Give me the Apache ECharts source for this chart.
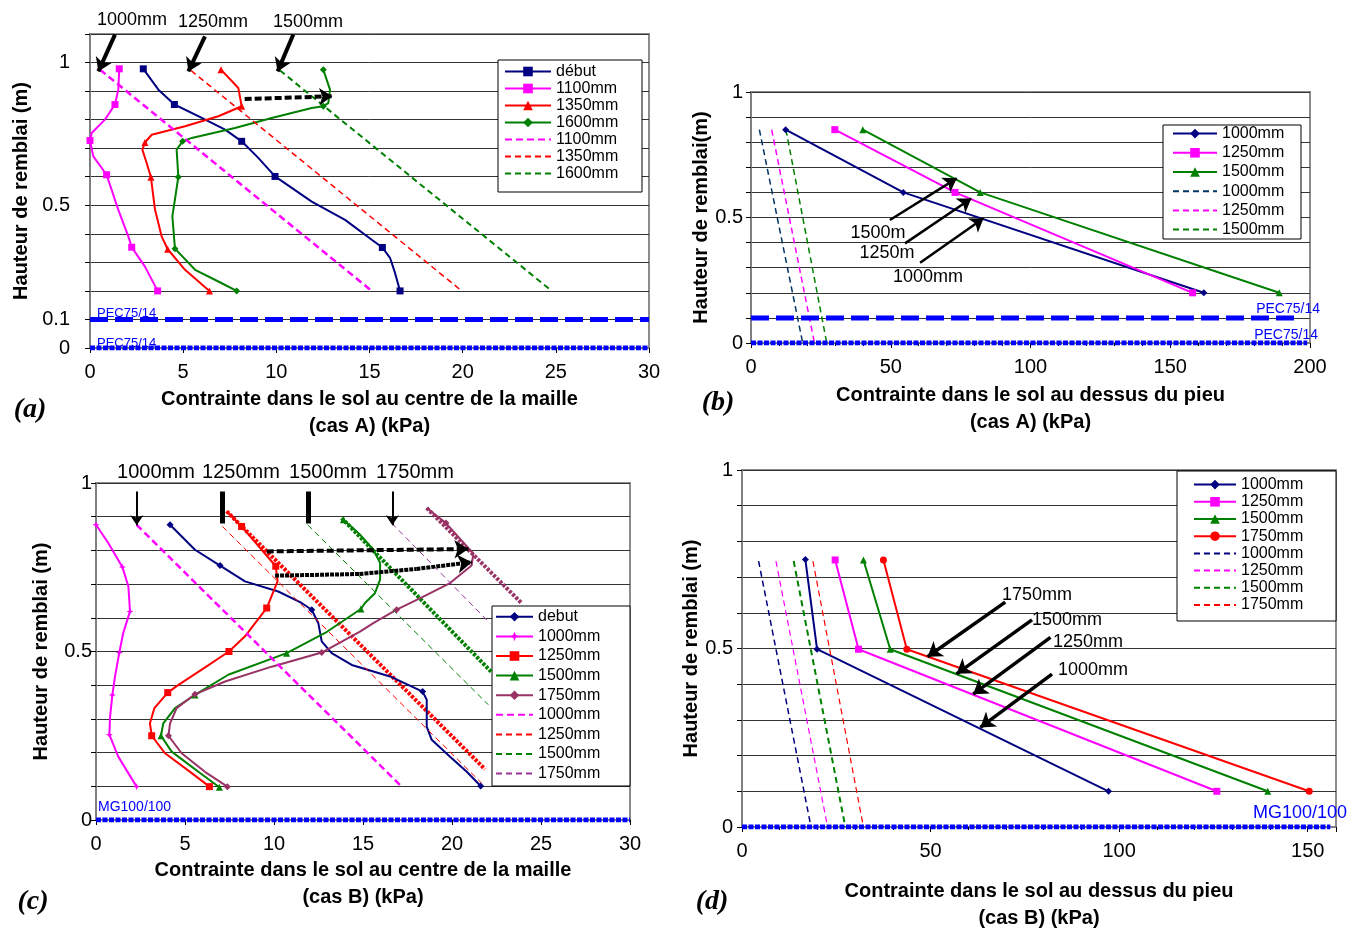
<!DOCTYPE html>
<html>
<head>
<meta charset="utf-8">
<script src="https://cdn.jsdelivr.net/npm/echarts@6/dist/echarts.min.js"></script>
<style>
  html, body { margin: 0; padding: 0; background: #fff; }
  #chart { width: 1362px; height: 933px; }
</style>
</head>
<body>
<div id="chart"></div>
<script>
// ---- (a) cas A, centre de la maille : [contrainte kPa, hauteur m]
const aDebut = [[2.86,0.978],[3.67,0.905],[4.53,0.853],[6.0,0.806],[7.25,0.765],[8.14,0.724],[9.03,0.666],[9.93,0.601],[11.9,0.513],[13.69,0.449],[15.12,0.379],[15.69,0.352],[16.1,0.316],[16.37,0.263],[16.64,0.2]];
const aDebutMk = [0,2,5,7,11,14];
const a1100 = [[1.57,0.978],[1.52,0.905],[1.34,0.853],[0.8,0.8],[0.09,0.753],[0,0.727],[0.18,0.671],[0.89,0.607],[1.52,0.484],[2.06,0.39],[2.24,0.353],[2.95,0.285],[3.63,0.2]];
const a1100Mk = [0,2,5,7,10,12];
const a1350 = [[7.03,0.975],[7.96,0.911],[8.14,0.847],[6.89,0.812],[5.1,0.777],[3.31,0.747],[2.95,0.72],[2.81,0.695],[3.04,0.648],[3.27,0.598],[3.49,0.484],[3.85,0.39],[4.17,0.346],[5.1,0.274],[6.41,0.2]];
const a1350Mk = [0,2,6,9,12,14];
const a1600 = [[12.52,0.975],[12.88,0.905],[12.79,0.858],[12.52,0.847],[11.9,0.841],[9.75,0.806],[7.78,0.771],[5.46,0.736],[4.97,0.724],[4.65,0.695],[4.74,0.599],[4.42,0.461],[4.56,0.348],[5.64,0.274],[6.89,0.233],[7.87,0.2]];
const a1600Mk = [0,3,8,10,12,15];
const a1100d = [[0.54,0.975],[15.12,0.2]];
const a1350d = [[5.42,0.972],[19.95,0.2]];
const a1600d = [[10.2,0.972],[24.78,0.2]];
const aNappe = [[0,0.1],[30,0.1]];
const aBase = [[0,0],[30,0]];

// ---- (b) cas A, au dessus du pieu
const b1000 = [[12.4,0.85],[54.5,0.6],[162,0.2]];
const b1250 = [[30,0.85],[73,0.6],[158,0.2]];
const b1500 = [[40,0.85],[82,0.6],[189,0.2]];
const b1000d = [[3,0.85],[18.5,0]];
const b1250d = [[7.4,0.85],[22.7,0]];
const b1500d = [[12.5,0.85],[27.1,0]];
const bNappe = [[0,0.1],[195,0.1]];
const bBase = [[0,0],[199,0]];

// ---- (c) cas B, centre de la maille
const cDebut = [[4.16,0.876],[5.56,0.802],[6.97,0.755],[8.37,0.708],[10.24,0.678],[11.55,0.644],[12.12,0.624],[12.49,0.584],[12.68,0.53],[13.24,0.495],[14.37,0.46],[16.52,0.426],[18.35,0.381],[18.58,0.357],[18.58,0.277],[18.86,0.238],[19.89,0.188],[20.83,0.143],[21.61,0.101]];
const cDebutMk = [0,2,6,12,18];
const c1000 = [[0,0.876],[0.69,0.822],[1.48,0.751],[1.82,0.693],[1.91,0.619],[1.53,0.555],[1.31,0.497],[1.07,0.426],[0.92,0.371],[0.79,0.307],[0.75,0.253],[1.25,0.188],[2.28,0.099]];
const c1000Mk = [0,2,4,6,8,10,12];
const c1250 = [[7.34,0.916],[8.18,0.871],[10.1,0.753],[10.2,0.708],[9.59,0.629],[8.37,0.545],[7.47,0.5],[5.94,0.446],[4.63,0.401],[4.03,0.378],[3.28,0.332],[3.03,0.287],[3.13,0.25],[3.88,0.198],[5.38,0.139],[6.37,0.099]];
const c1250Mk = [1,2,4,6,9,12,15];
const c1500 = [[13.9,0.891],[14.83,0.847],[15.58,0.802],[15.96,0.763],[15.96,0.713],[15.67,0.673],[15.11,0.644],[14.88,0.626],[12.87,0.555],[10.71,0.495],[7.43,0.431],[5.56,0.371],[4.44,0.332],[3.78,0.287],[3.65,0.25],[4.25,0.203],[5.75,0.143],[6.93,0.097]];
const c1500Mk = [0,7,9,11,14,17];
const c1750 = [[18.58,0.926],[19.66,0.881],[21.2,0.79],[21.1,0.755],[19.89,0.703],[18.39,0.663],[16.89,0.624],[15.58,0.584],[14.83,0.559],[12.68,0.497],[9.87,0.455],[7.25,0.411],[5.56,0.373],[4.53,0.332],[4.16,0.287],[4.07,0.25],[4.81,0.198],[6.12,0.143],[7.38,0.099]];
const c1750Mk = [1,6,9,12,15,18];
const c1000d = [[2.28,0.876],[17.08,0.104]];
const c1250d = [[7.1,0.871],[21.67,0.109]];
const c1500d = [[11.89,0.876],[22.04,0.342]];
const c1750d = [[16.61,0.881],[22.13,0.584]];
const c1250t = [[7.34,0.916],[21.85,0.151]];
const c1500t = [[13.8,0.896],[22.2,0.44]];
const c1750t = [[18.58,0.926],[23.9,0.644]];
const cBase = [[0,0],[30,0]];

// ---- (d) cas B, au dessus du pieu
const d1000 = [[16.8,0.749],[19.9,0.498],[97.2,0.1]];
const d1250 = [[24.7,0.748],[30.9,0.498],[125.9,0.1]];
const d1500 = [[32.2,0.748],[39.3,0.498],[139.4,0.1]];
const d1750 = [[37.5,0.748],[43.7,0.498],[150.4,0.1]];
const d1000d = [[4.4,0.745],[18.3,0]];
const d1250d = [[9.0,0.745],[22.7,0]];
const d1500d = [[13.7,0.745],[27.4,0]];
const d1750d = [[18.8,0.745],[32.2,0]];
const dBase = [[0,0],[156,0]];

// annotation arrows (tail, head), in data units
const aArrowsTop = [[[1.34,1.098],[0.45,0.969]],[[6.17,1.092],[5.28,0.969]],[[10.91,1.098],[10.07,0.969]]];
const aArrowDash = [[[8.3,0.872],[13.0,0.882]]];
const bArrows = [[[49.7,0.49],[73.6,0.656]],[[55.1,0.397],[78.8,0.576]],[[60.5,0.32],[83.2,0.497]]];
const cArrowsThin = [[[2.29,0.975],[2.29,0.875]],[[16.65,0.975],[16.65,0.875]]];
const cBars = [[[7.1,0.975],[7.1,0.88]],[[11.92,0.975],[11.92,0.88]]];
const cArrowDash = [[[9.59,0.797],[20.92,0.804]]];
const cDotBody = [[[10.06,0.725],[14.8,0.73]],[[14.8,0.73],[18,0.745]]];
const cDotHead = [[[18,0.745],[21.11,0.765]]];
const dArrows = [[[69.8,0.63],[49.2,0.477]],[[76.9,0.58],[56.9,0.429]],[[81.8,0.531],[61.3,0.372]],[[82.2,0.428],[63.2,0.279]]];

const FONT = "'Liberation Sans', Arial, sans-serif";
const NAVY = '#000080', MAG = '#ff00ff', RED = '#ff0000', GREEN = '#008000', PURP = '#993366', BLUE = '#0000ff';
const STAR = 'path://M5,0L6.4,3.6L10,5L6.4,6.4L5,10L3.6,6.4L0,5L3.6,3.6Z';

function curve(name, g, pts, marks, color, symbol, width, dash) {
  return {
    name: name, type: 'line', xAxisIndex: g, yAxisIndex: g,
    data: pts.map((p, i) => (marks === true || (marks && marks.includes(i))) ? p : { value: p, symbol: 'none' }),
    symbol: symbol || 'none', symbolSize: 7,
    lineStyle: { color: color, width: width || 2, type: dash || 'solid' },
    itemStyle: { color: color },
    emphasis: { disabled: true }, animation: false, z: 3
  };
}

function arrows(g, list, width, head, type) {
  return {
    type: 'lines', coordinateSystem: 'cartesian2d', xAxisIndex: g, yAxisIndex: g,
    silent: true, animation: false, z: 6,
    symbol: head ? ['none', 'arrow'] : ['none', 'none'], symbolSize: head || 1,
    lineStyle: { color: '#000', width: width, type: type || 'solid', opacity: 1, curveness: 0 },
    data: list.map(c => ({ coords: c }))
  };
}

function xAx(g, max, interval, name, gap, minor) {
  return {
    gridIndex: g, type: 'value', min: 0, max: max, interval: interval,
    axisLine: { show: true, onZero: false, lineStyle: { color: '#808080', width: 2 } },
    axisTick: { show: true, length: 5, lineStyle: { color: '#000' } },
    minorTick: { show: !!minor, splitNumber: minor || 5, length: 3, lineStyle: { color: '#000' } },
    axisLabel: { fontSize: 20, color: '#000', fontFamily: FONT, margin: 14,
      formatter: v => (Math.abs(v / interval - Math.round(v / interval)) < 1e-6 ? String(v) : '') },
    splitLine: { show: false },
    name: name, nameLocation: 'middle', nameGap: gap,
    nameTextStyle: { fontSize: 20, fontWeight: 'bold', color: '#000', fontFamily: FONT, lineHeight: 27 }
  };
}

function yAx(g, max, shown, name, gap, margin) {
  return {
    gridIndex: g, type: 'value', min: 0, max: max, interval: 0.1,
    axisLine: { show: true, onZero: false, lineStyle: { color: '#808080', width: 2 } },
    axisTick: { show: true, length: 5, lineStyle: { color: '#000' } },
    axisLabel: { fontSize: 20, color: '#000', fontFamily: FONT, margin: margin,
      formatter: v => (shown.some(s => Math.abs(s - v) < 1e-6) ? String(+v.toFixed(1)) : '') },
    splitLine: { show: true, lineStyle: { color: '#333', width: 1 } },
    name: name, nameLocation: 'middle', nameGap: gap,
    nameTextStyle: { fontSize: 20, fontWeight: 'bold', color: '#000', fontFamily: FONT }
  };
}

// dashed entries (name ending in ":d") show the line only, no marker
function legend(names, left, top, itemWidth, lineHeight) {
  return {
    data: names.map(n => (n.endsWith(':d') ? { name: n, itemStyle: { opacity: 0 } } : n)),
    left: left, top: top, orient: 'vertical', padding: 0,
    itemWidth: itemWidth, itemHeight: 12, itemGap: 0, selectedMode: false,
    formatter: n => n.split(':')[1],
    textStyle: { fontSize: 16, color: '#000', fontFamily: FONT, lineHeight: lineHeight }
  };
}

function txt(x, y, s, size, opts) {
  return { type: 'text', x: x, y: y, z: 10,
    style: Object.assign({ text: s, fontSize: size, fontFamily: FONT, fill: '#000',
      textAlign: 'center', textVerticalAlign: 'middle' }, opts || {}) };
}
function box(x, y, w, h) {
  return { type: 'rect', z: 3, shape: { x: x, y: y, width: w, height: h },
    style: { fill: '#fff', stroke: '#000', lineWidth: 1 } };
}
function letter(x, y, s) {
  return txt(x, y, s, 28, { fontFamily: "'Liberation Serif', 'Times New Roman', serif", fontWeight: 'bold', fontStyle: 'italic' });
}

const DASH = [6, 4];
const series = [
  // (a)
  curve('a:début', 0, aDebut, aDebutMk, NAVY, 'rect', 2),
  curve('a:1100mm', 0, a1100, a1100Mk, MAG, 'rect', 2),
  curve('a:1350mm', 0, a1350, a1350Mk, RED, 'triangle', 2),
  curve('a:1600mm', 0, a1600, a1600Mk, GREEN, 'diamond', 2),
  curve('a:1100mm:d', 0, a1100d, null, MAG, null, 2.5, [7, 4]),
  curve('a:1350mm:d', 0, a1350d, null, RED, null, 1.5, DASH),
  curve('a:1600mm:d', 0, a1600d, null, GREEN, null, 2, DASH),
  curve('a:nappe', 0, aNappe, null, BLUE, null, 5, [18, 7]),
  curve('a:base', 0, aBase, null, BLUE, null, 5, [5, 1.5]),
  arrows(0, aArrowsTop, 4, 13),
  arrows(0, aArrowDash, 4, 13, [7, 3]),
  // (b)
  curve('b:1000mm', 1, b1000, true, NAVY, 'diamond', 2),
  curve('b:1250mm', 1, b1250, true, MAG, 'rect', 2),
  curve('b:1500mm', 1, b1500, true, GREEN, 'triangle', 2),
  curve('b:1000mm:d', 1, b1000d, null, '#003366', null, 1.5, DASH),
  curve('b:1250mm:d', 1, b1250d, null, MAG, null, 1.5, DASH),
  curve('b:1500mm:d', 1, b1500d, null, GREEN, null, 1.5, DASH),
  curve('b:nappe', 1, bNappe, null, BLUE, null, 5, [18, 7]),
  curve('b:base', 1, bBase, null, BLUE, null, 5, [5, 1.5]),
  arrows(1, bArrows, 2.5, 13),
  // (c)
  curve('c:1250mm:t', 2, c1250t, null, RED, null, 4, [3, 1.5]),
  curve('c:1500mm:t', 2, c1500t, null, GREEN, null, 4, [3, 1.5]),
  curve('c:1750mm:t', 2, c1750t, null, PURP, null, 4, [3, 1.5]),
  curve('c:debut', 2, cDebut, cDebutMk, NAVY, 'diamond', 2),
  curve('c:1000mm', 2, c1000, c1000Mk, MAG, STAR, 2),
  curve('c:1250mm', 2, c1250, c1250Mk, RED, 'rect', 2),
  curve('c:1500mm', 2, c1500, c1500Mk, GREEN, 'triangle', 2),
  curve('c:1750mm', 2, c1750, c1750Mk, PURP, 'diamond', 2),
  curve('c:1000mm:d', 2, c1000d, null, MAG, null, 2.5, [7, 4]),
  curve('c:1250mm:d', 2, c1250d, null, RED, null, 1, DASH),
  curve('c:1500mm:d', 2, c1500d, null, GREEN, null, 1, DASH),
  curve('c:1750mm:d', 2, c1750d, null, '#993399', null, 1, DASH),
  curve('c:base', 2, cBase, null, BLUE, null, 5, [5, 1.5]),
  arrows(2, cArrowsThin, 2, 10),
  arrows(2, cBars, 5, 0),
  arrows(2, cArrowDash, 4, 14, [7, 3]),
  arrows(2, cDotBody, 4, 0, [4, 1]),
  arrows(2, cDotHead, 4, 14, [4, 1]),
  // (d)
  curve('d:1000mm', 3, d1000, true, NAVY, 'diamond', 2),
  curve('d:1250mm', 3, d1250, true, MAG, 'rect', 2),
  curve('d:1500mm', 3, d1500, true, GREEN, 'triangle', 2),
  curve('d:1750mm', 3, d1750, true, RED, 'circle', 2),
  curve('d:1000mm:d', 3, d1000d, null, NAVY, null, 1.5, DASH),
  curve('d:1250mm:d', 3, d1250d, null, MAG, null, 1.2, DASH),
  curve('d:1500mm:d', 3, d1500d, null, GREEN, null, 2, DASH),
  curve('d:1750mm:d', 3, d1750d, null, RED, null, 1.2, DASH),
  curve('d:base', 3, dBase, null, BLUE, null, 5, [5, 1.5]),
  arrows(3, dArrows, 3.5, 14)
];

const gridBase = { show: true, borderColor: '#8c8c8c', borderWidth: 2, backgroundColor: 'transparent' };

const option = {
  backgroundColor: '#fff',
  animation: false,
  grid: [
    Object.assign({ left: 90, top: 34, width: 559, height: 314 }, gridBase),
    Object.assign({ left: 751, top: 92, width: 559, height: 251 }, gridBase),
    Object.assign({ left: 96, top: 483, width: 534, height: 337 }, gridBase),
    Object.assign({ left: 742, top: 470, width: 594, height: 358 }, gridBase)
  ],
  xAxis: [
    xAx(0, 30, 5, 'Contrainte dans le sol au centre de la maille\n(cas A) (kPa)', 38),
    xAx(1, 200, 50, 'Contrainte dans le sol au dessus du pieu\n(cas A) (kPa)', 39, 5),
    xAx(2, 30, 5, 'Contrainte dans le sol au centre de la maille\n(cas B) (kPa)', 37),
    xAx(3, 157.5, 50, 'Contrainte dans le sol au dessus du pieu\n(cas B) (kPa)', 51, 5)
  ],
  yAxis: [
    yAx(0, 1.1, [0, 0.1, 0.5, 1], 'Hauteur de remblai (m)', 59, 20),
    yAx(1, 1, [0, 0.5, 1], 'Hauteur de remblai(m)', 38, 8),
    yAx(2, 1, [0, 0.5, 1], 'Hauteur de remblai (m)', 45, 4),
    yAx(3, 1, [0, 0.5, 1], 'Hauteur de remblai (m)', 41, 9)
  ],
  legend: [
    legend(['a:début', 'a:1100mm', 'a:1350mm', 'a:1600mm', 'a:1100mm:d', 'a:1350mm:d', 'a:1600mm:d'], 504, 63, 46, 17),
    legend(['b:1000mm', 'b:1250mm', 'b:1500mm', 'b:1000mm:d', 'b:1250mm:d', 'b:1500mm:d'], 1172, 124, 44, 19.2),
    legend(['c:debut', 'c:1000mm', 'c:1250mm', 'c:1500mm', 'c:1750mm', 'c:1000mm:d', 'c:1250mm:d', 'c:1500mm:d', 'c:1750mm:d'], 495, 607, 37, 19.6),
    legend(['d:1000mm', 'd:1250mm', 'd:1500mm', 'd:1750mm', 'd:1000mm:d', 'd:1250mm:d', 'd:1500mm:d', 'd:1750mm:d'], 1193, 476, 42, 17.2)
  ],
  graphic: [
    box(498, 60, 144, 132),
    box(1163, 125, 138, 114),
    box(492, 606, 138, 180),
    box(1177, 471, 159, 150),
    txt(132, 20, '1000mm', 18), txt(213, 22, '1250mm', 18), txt(308, 22, '1500mm', 18),
    txt(97, 313, 'PEC75/14', 13, { fill: BLUE, textAlign: 'left' }),
    txt(97, 343, 'PEC75/14', 13, { fill: BLUE, textAlign: 'left' }),
    txt(878, 233, '1500m', 18), txt(887, 253, '1250m', 18), txt(928, 277, '1000mm', 18),
    txt(1320, 309, 'PEC75/14', 14, { fill: BLUE, textAlign: 'right' }),
    txt(1318, 335, 'PEC75/14', 14, { fill: BLUE, textAlign: 'right' }),
    txt(156, 472, '1000mm', 20), txt(241, 472, '1250mm', 20), txt(328, 472, '1500mm', 20), txt(415, 472, '1750mm', 20),
    txt(98, 807, 'MG100/100', 14, { fill: BLUE, textAlign: 'left' }),
    txt(1037, 595, '1750mm', 18), txt(1067, 620, '1500mm', 18), txt(1088, 642, '1250mm', 18), txt(1093, 670, '1000mm', 18),
    txt(1300, 813, 'MG100/100', 18, { fill: BLUE }),
    letter(30, 410, '(a)'), letter(718, 403, '(b)'), letter(33, 902, '(c)'), letter(712, 902, '(d)')
  ],
  series: series
};

const chart = echarts.init(document.getElementById('chart'));
chart.setOption(option);
</script>
</body>
</html>
